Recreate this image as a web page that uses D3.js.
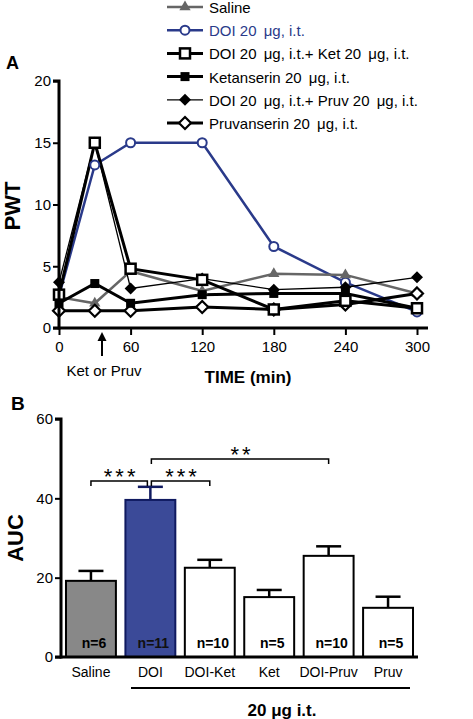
<!DOCTYPE html>
<html><head><meta charset="utf-8">
<script src="https://cdn.jsdelivr.net/npm/d3@7"></script>
<style>
html,body{margin:0;padding:0;background:#fff;}
svg{display:block;font-family:"Liberation Sans",Arial,sans-serif;}
</style></head>
<body>
<svg id="c" width="473" height="719"></svg>
<script>
// ---- Panel A data ----
const times = [0, 30, 60, 120, 180, 240, 300];
const seriesNames = ["Saline", "DOI 20 \u03bcg, i.t.", "DOI 20 \u03bcg, i.t.+ Ket 20 \u03bcg, i.t.", "Ketanserin 20 \u03bcg, i.t.", "DOI 20 \u03bcg, i.t.+ Pruv 20 \u03bcg, i.t.", "Pruvanserin 20 \u03bcg, i.t."];
const saline  = [2.5, 2.0, 4.6, 3.0, 4.4, 4.3, 2.8];
const doi     = [2.6, 13.2, 15.0, 15.0, 6.6, 3.7, 1.3];
const doiKet  = [2.7, 15.0, 4.8, 3.9, 1.5, 2.2, 1.6];
const ket     = [2.0, 3.6, 2.0, 2.7, 2.8, 2.8, 1.6];
const doiPruv = [3.7, 15.0, 3.2, 4.0, 3.1, 3.3, 4.1];
const pruv    = [1.4, 1.4, 1.4, 1.7, 1.5, 1.9, 2.8];
const pwtTicks = [0, 5, 10, 15, 20];
const timeTicks = [0, 60, 120, 180, 240, 300];

// ---- Panel B data ----
const groups = ["Saline", "DOI", "DOI-Ket", "Ket", "DOI-Pruv", "Pruv"];
const aucMean = [19.2, 39.6, 22.5, 15.1, 25.5, 12.4];
const aucSem  = [2.5, 3.3, 2.0, 1.8, 2.4, 2.8];
const nLabels = ["n=6", "n=11", "n=10", "n=5", "n=10", "n=5"];
const aucTicks = [0, 20, 40, 60];

const svg = d3.select("#c");
const BLUE = "#2a3a8a";

// ===== Panel A =====
const xA = d3.scaleLinear().domain([0, 300]).range([59, 417]);
const yA = d3.scaleLinear().domain([0, 20]).range([328, 81]);

const styles = [
  {data: saline,  color: "#666", width: 2.5, marker: "tri"},
  {data: doi,     color: BLUE,   width: 2.5, marker: "circle"},
  {data: doiKet,  color: "#000", width: 3,   marker: "openSq"},
  {data: ket,     color: "#000", width: 3,   marker: "fillSq"},
  {data: doiPruv, color: "#000", width: 1.3, marker: "fillDia"},
  {data: pruv,    color: "#000", width: 3,   marker: "openDia"}
];

function drawMarker(g, type, x, y, color) {
  if (type === "tri") {
    g.append("path").attr("d", d3.symbol(d3.symbolTriangle, 55)()).attr("transform", `translate(${x},${y})`).attr("fill", color);
  } else if (type === "circle") {
    g.append("circle").attr("cx", x).attr("cy", y).attr("r", 4.5).attr("fill", "#fff").attr("stroke", color).attr("stroke-width", 2);
  } else if (type === "openSq") {
    g.append("rect").attr("x", x - 5).attr("y", y - 5).attr("width", 10).attr("height", 10).attr("fill", "#fff").attr("stroke", color).attr("stroke-width", 2.5);
  } else if (type === "fillSq") {
    g.append("rect").attr("x", x - 4.5).attr("y", y - 4.5).attr("width", 9).attr("height", 9).attr("fill", color);
  } else if (type === "fillDia") {
    g.append("path").attr("d", `M${x},${y-6}L${x+6},${y}L${x},${y+6}L${x-6},${y}Z`).attr("fill", color);
  } else if (type === "openDia") {
    g.append("path").attr("d", `M${x},${y-6}L${x+6},${y}L${x},${y+6}L${x-6},${y}Z`).attr("fill", "#fff").attr("stroke", color).attr("stroke-width", 2.2);
  }
}

const lineGen = d3.line().x((d, i) => xA(times[i])).y(d => yA(d));
const drawOrder = [1, 0, 5, 3, 4, 2];
const gA = svg.append("g");
drawOrder.forEach(k => {
  const s = styles[k];
  gA.append("path").attr("d", lineGen(s.data)).attr("fill", "none").attr("stroke", s.color).attr("stroke-width", s.width).attr("stroke-linejoin", "miter");
});
drawOrder.forEach(k => {
  const s = styles[k];
  s.data.forEach((v, i) => drawMarker(gA, s.marker, xA(times[i]), yA(v), s.color));
});

// axes A
const axA = svg.append("g").attr("transform", "translate(59,0)")
  .call(d3.axisLeft(yA).tickValues(pwtTicks).tickSize(6).tickPadding(2));
const axAx = svg.append("g").attr("transform", "translate(0,328)")
  .call(d3.axisBottom(xA).tickValues(timeTicks).tickSize(7).tickPadding(6));
[axA, axAx].forEach(a => {
  a.select(".domain").attr("stroke", "#000").attr("stroke-width", 3);
  a.selectAll(".tick line").attr("stroke", "#000").attr("stroke-width", 2);
  a.selectAll("text").attr("font-size", 15).attr("fill", "#000").attr("font-family", "Liberation Sans, Arial, sans-serif");
});
axA.select(".domain").attr("d", "M-6,81H0V329.5");
axAx.select(".domain").attr("d", `M53,0H428`);

// arrow
svg.append("line").attr("x1", 102).attr("x2", 102).attr("y1", 340).attr("y2", 356).attr("stroke", "#000").attr("stroke-width", 2);
svg.append("path").attr("d", "M102,332L97.5,341L106.5,341Z").attr("fill", "#000");
svg.append("text").attr("x", 104).attr("y", 376).attr("text-anchor", "middle").attr("font-size", 15).text("Ket or Pruv");
svg.append("text").attr("x", 248).attr("y", 383).attr("text-anchor", "middle").attr("font-size", 17).attr("font-weight", "bold").text("TIME (min)");
svg.append("text").attr("x", 12).attr("y", 206).attr("text-anchor", "middle").attr("font-size", 22).attr("font-weight", "bold")
  .attr("transform", "rotate(-90,12,206)").attr("dominant-baseline", "central").text("PWT");
svg.append("text").attr("x", 6).attr("y", 69).attr("font-size", 18).attr("font-weight", "bold").text("A");

// legend
const legY = d3.scalePoint().domain(d3.range(6)).range([7, 123]);
styles.forEach((s, k) => {
  const y = legY(k);
  const g = svg.append("g");
  g.append("line").attr("x1", 167).attr("x2", 203).attr("y1", y).attr("y2", y).attr("stroke", s.color).attr("stroke-width", s.width);
  drawMarker(g, s.marker, 185, y, s.color);
  const t = g.append("text").attr("x", 209).attr("y", y).attr("dominant-baseline", "central").attr("font-size", 15)
    .attr("fill", k === 1 ? BLUE : "#000");
  // split around μ to add the wider spacing seen in the original
  const parts = seriesNames[k].split("\u03bc");
  parts.forEach((p, j) => {
    if (j > 0) t.append("tspan").attr("dx", 3).text("\u03bc");
    t.append("tspan").text(p);
  });
});

// ===== Panel B =====
const xB = d3.scaleBand().domain(groups).range([61, 418]).paddingInner(0.16).paddingOuter(0.084);
const yB = d3.scaleLinear().domain([0, 60]).range([657, 419]);
const fills = ["#888", "#3b4a98", "#fff", "#fff", "#fff", "#fff"];
const strokes = ["#000", "#101a60", "#000", "#000", "#000", "#000"];
const gB = svg.append("g");
groups.forEach((gname, i) => {
  const cx = xB(gname) + xB.bandwidth() / 2;
  const col = i === 1 ? "#101a60" : "#000";
  gB.append("line").attr("x1", cx).attr("x2", cx).attr("y1", yB(aucMean[i])).attr("y2", yB(aucMean[i] + aucSem[i])).attr("stroke", col).attr("stroke-width", 2.5);
  gB.append("line").attr("x1", cx - 12.5).attr("x2", cx + 12.5).attr("y1", yB(aucMean[i] + aucSem[i])).attr("y2", yB(aucMean[i] + aucSem[i])).attr("stroke", col).attr("stroke-width", 2.5);
  gB.append("rect").attr("x", xB(gname)).attr("y", yB(aucMean[i])).attr("width", xB.bandwidth()).attr("height", yB(0) - yB(aucMean[i]))
    .attr("fill", fills[i]).attr("stroke", strokes[i]).attr("stroke-width", 2);
  gB.append("text").attr("x", cx + 3).attr("y", 648).attr("text-anchor", "middle").attr("font-size", 14).attr("font-weight", "bold")
    .attr("fill", i === 1 ? "#111" : "#000").text(nLabels[i]);
});

const axB = svg.append("g").attr("transform", "translate(61,0)")
  .call(d3.axisLeft(yB).tickValues(aucTicks).tickSize(6).tickPadding(2));
const axBx = svg.append("g").attr("transform", "translate(0,657)")
  .call(d3.axisBottom(xB).tickSize(0).tickPadding(10));
[axB, axBx].forEach(a => {
  a.select(".domain").attr("stroke", "#000").attr("stroke-width", 3);
  a.selectAll(".tick line").attr("stroke", "#000").attr("stroke-width", 2);
  a.selectAll("text").attr("font-size", 15).attr("fill", "#000").attr("font-family", "Liberation Sans, Arial, sans-serif");
});
axBx.selectAll("text").attr("font-size", 14);
axB.select(".domain").attr("d", "M-6,419H0V658.5");
axBx.select(".domain").attr("d", "M55,0H418");

// significance brackets
function bracket(x1, x2, y, label) {
  svg.append("path").attr("d", `M${x1},${y+5}V${y}H${x2}V${y+5}`).attr("fill", "none").attr("stroke", "#000").attr("stroke-width", 1.5);
  svg.append("text").attr("x", (x1 + x2) / 2 + 2).attr("y", y + 3).attr("text-anchor", "middle").attr("font-size", 22)
    .attr("letter-spacing", 3).text(label);
}
const c = g => xB(g) + xB.bandwidth() / 2;
bracket(c("Saline"), c("DOI") - 3, 481, "***");
bracket(c("DOI") + 1, c("DOI-Ket"), 481, "***");
bracket(c("DOI") + 1, c("DOI-Pruv"), 459, "**");

svg.append("line").attr("x1", 131).attr("x2", 410).attr("y1", 688).attr("y2", 688).attr("stroke", "#000").attr("stroke-width", 2);
svg.append("text").attr("x", 282).attr("y", 716).attr("text-anchor", "middle").attr("font-size", 17).attr("font-weight", "bold").text("20 \u03bcg i.t.");
svg.append("text").attr("x", 15).attr("y", 538).attr("text-anchor", "middle").attr("font-size", 22).attr("font-weight", "bold")
  .attr("transform", "rotate(-90,15,538)").attr("dominant-baseline", "central").text("AUC");
svg.append("text").attr("x", 11).attr("y", 410).attr("font-size", 19).attr("font-weight", "bold").text("B");
</script>
</body></html>
